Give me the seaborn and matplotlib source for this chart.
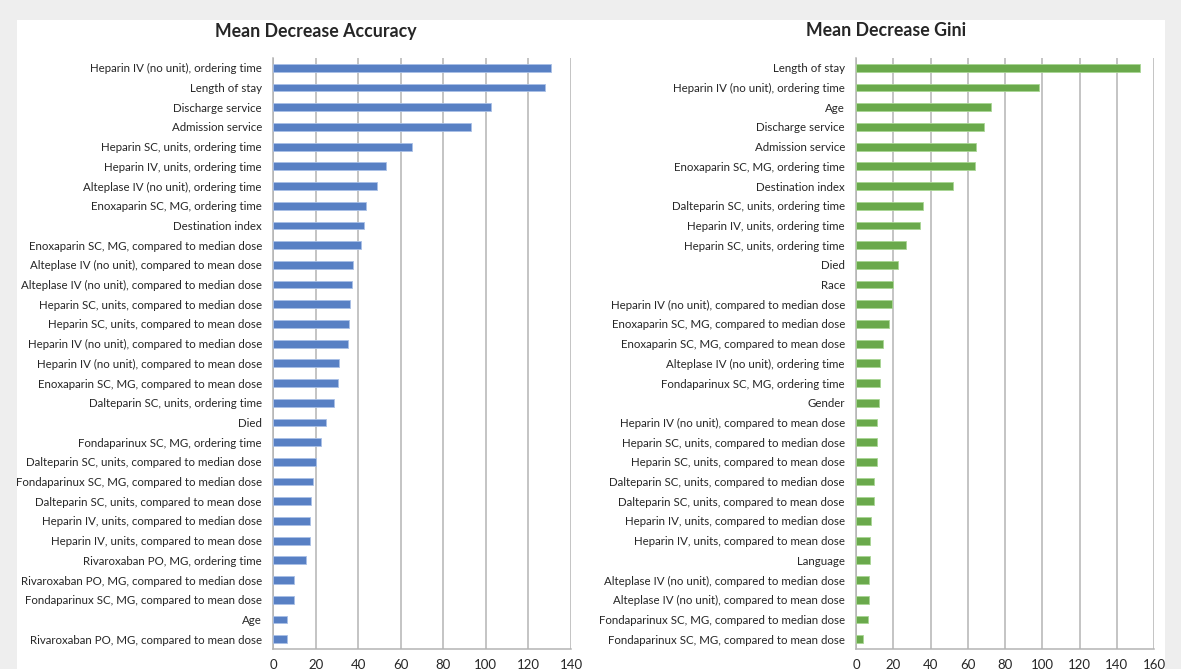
import numpy as np
import pandas as pd
import matplotlib
matplotlib.use('Agg')
import matplotlib.pyplot as plt
from matplotlib.patches import Rectangle
import seaborn as sns

BLUE = '#5880C4'; GREEN = '#6AA94C'; GRID = '#B4B4B4'; TXT = '#262626'

acc_labels = [
    'Heparin IV (no unit), ordering time', 'Length of stay', 'Discharge service',
    'Admission service', 'Heparin SC, units, ordering time', 'Heparin IV, units, ordering time',
    'Alteplase IV (no unit), ordering time', 'Enoxaparin SC, MG, ordering time',
    'Destination index', 'Enoxaparin SC, MG, compared to median dose',
    'Alteplase IV (no unit), compared to mean dose', 'Alteplase IV (no unit), compared to median dose',
    'Heparin SC, units, compared to median dose', 'Heparin SC, units, compared to mean dose',
    'Heparin IV (no unit), compared to median dose', 'Heparin IV (no unit), compared to mean dose',
    'Enoxaparin SC, MG, compared to mean dose', 'Dalteparin SC, units, ordering time', 'Died',
    'Fondaparinux SC, MG, ordering time', 'Dalteparin SC, units, compared to median dose',
    'Fondaparinux SC, MG, compared to median dose', 'Dalteparin SC, units, compared to mean dose',
    'Heparin IV, units, compared to median dose', 'Heparin IV, units, compared to mean dose',
    'Rivaroxaban PO, MG, ordering time', 'Rivaroxaban PO, MG, compared to median dose',
    'Fondaparinux SC, MG, compared to mean dose', 'Age', 'Rivaroxaban PO, MG, compared to mean dose',
]
acc_values = [130.8, 128.0, 102.5, 93.0, 65.4, 53.2, 49.0, 43.5, 42.9, 41.3,
              37.8, 37.1, 36.2, 35.9, 35.1, 31.0, 30.5, 28.6, 24.9, 22.4,
              20.3, 18.7, 17.9, 17.6, 17.3, 15.4, 10.0, 9.7, 6.7, 6.5]

gini_labels = [
    'Length of stay', 'Heparin IV (no unit), ordering time', 'Age', 'Discharge service',
    'Admission service', 'Enoxaparin SC, MG, ordering time', 'Destination index',
    'Dalteparin SC, units, ordering time', 'Heparin IV, units, ordering time',
    'Heparin SC, units, ordering time', 'Died', 'Race',
    'Heparin IV (no unit), compared to median dose', 'Enoxaparin SC, MG, compared to median dose',
    'Enoxaparin SC, MG, compared to mean dose', 'Alteplase IV (no unit), ordering time',
    'Fondaparinux SC, MG, ordering time', 'Gender',
    'Heparin IV (no unit), compared to mean dose', 'Heparin SC, units, compared to median dose',
    'Heparin SC, units, compared to mean dose', 'Dalteparin SC, units, compared to median dose',
    'Dalteparin SC, units, compared to mean dose', 'Heparin IV, units, compared to median dose',
    'Heparin IV, units, compared to mean dose', 'Language',
    'Alteplase IV (no unit), compared to median dose', 'Alteplase IV (no unit), compared to mean dose',
    'Fondaparinux SC, MG, compared to median dose', 'Fondaparinux SC, MG, compared to mean dose',
]
gini_values = [152.4, 98.3, 72.3, 68.7, 64.4, 64.0, 52.1, 36.0, 34.3, 26.8,
               22.3, 19.8, 19.1, 17.8, 14.4, 12.8, 12.8, 12.2, 11.5, 11.3,
               11.1, 9.9, 9.5, 8.1, 7.7, 7.4, 7.2, 6.8, 6.3, 3.8]

sns.set_style('white')
plt.rcParams['font.family'] = ['Lato', 'DejaVu Sans']

W, H = 1181, 669
fig = plt.figure(figsize=(W / 100, H / 100), dpi=100)
fig.patch.set_facecolor('#EEEEEE')
fig.patches.append(Rectangle((17 / W, 0), (1165 - 17) / W, (H - 20) / H,
                             transform=fig.transFigure, facecolor='white',
                             edgecolor='none', zorder=-10))


def panel(x0, labels, values, color, edge, xmax, title, title_x):
    ax = fig.add_axes([x0 / W, 20 / H, 298 / W, 591 / H])
    ax.set_facecolor('none')
    df = pd.DataFrame({'feature': labels, 'value': values})
    sns.barplot(data=df, y='feature', x='value', orient='h', color=color,
                width=0.4, edgecolor=edge, linewidth=0.6, saturation=1,
                ax=ax, zorder=3)
    ax.set_xlim(0, xmax)
    ax.set_ylim(len(labels) - 0.5, -0.5)
    ax.set_xticks(np.arange(0, xmax + 1, 20))
    ax.grid(axis='x', color=GRID, lw=1.1, zorder=0)
    ax.set_axisbelow(True)
    ax.set_xlabel(''); ax.set_ylabel('')
    for sp in ['top', 'right']:
        ax.spines[sp].set_visible(False)
    for sp in ['left', 'bottom']:
        ax.spines[sp].set_color(GRID)
        ax.spines[sp].set_linewidth(1.1)
    # category tick marks sit between bars, like the source
    ax.set_yticks(np.arange(-0.5, len(labels), 1), minor=True)
    ax.tick_params(axis='y', which='major', length=0, pad=8, labelsize=8.3, labelcolor=TXT)
    ax.tick_params(axis='y', which='minor', length=4, color=GRID, width=1.1)
    ax.tick_params(axis='x', which='major', length=4, color=GRID, width=1.1,
                   labelsize=9.5, labelcolor=TXT, pad=3)
    fig.text(title_x / W, 1 - 31 / H, title, ha='center', va='center',
             fontsize=12.8, fontweight='bold', color=TXT)
    return ax


panel(273, acc_labels, acc_values, BLUE, '#A9C0E6', 140, 'Mean Decrease Accuracy', 316)
panel(856, gini_labels, gini_values, GREEN, '#A9D694', 160, 'Mean Decrease Gini', 886)

plt.savefig('out.png', dpi=100, facecolor=fig.get_facecolor())
plt.close()
